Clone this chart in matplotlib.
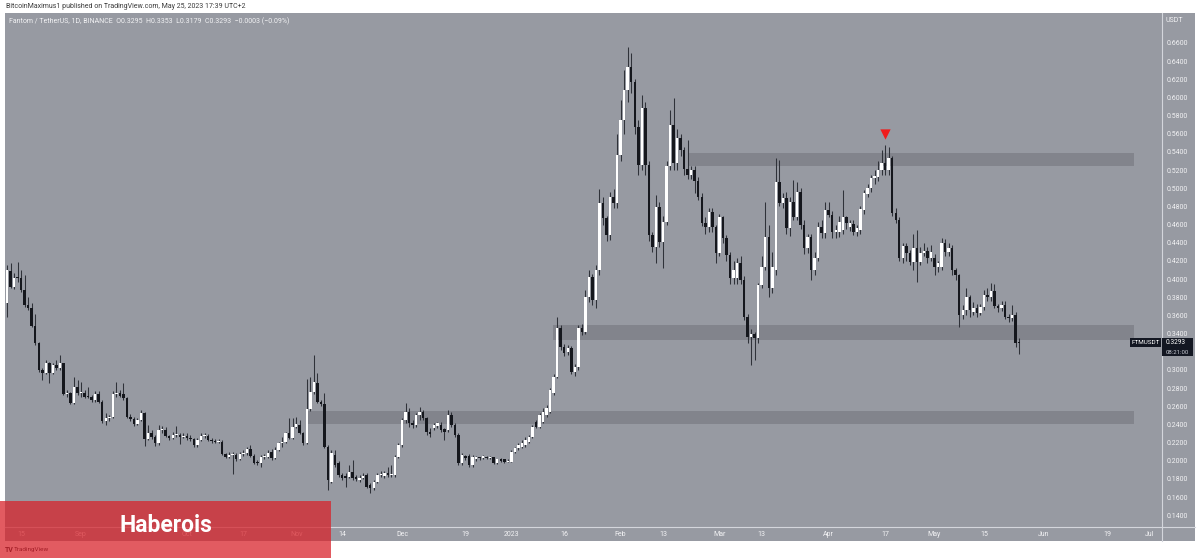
"""
FTM/USDT daily candles (Aug 2022 - May 2023), TradingView style snapshot.
"""

import numpy as np
import pandas as pd
import matplotlib.pyplot as plt
import matplotlib.dates as mdates
from matplotlib.patches import Rectangle
from matplotlib.lines import Line2D

plt.rcParams["font.family"] = ["Roboto", "DejaVu Sans"]

# -----------------------------------------------------------------------------
# DATA (one candle per day, 2022-08-11 .. 2023-05-25)
# -----------------------------------------------------------------------------
start_date = "2022-08-11"

opens = [
    .3733, .4093, .3917, .4016, .4008, .3880, .3715, .3678, .3483, .3300,
    .2999, .2970, .3073, .2962, .3054, .3017, .3073, .2735, .2742, .2639,
    .2816, .2742, .2750, .2705, .2698, .2669, .2735, .2650, .2441, .2467,
    .2485, .2735, .2750, .2735, .2687, .2478, .2455, .2401, .2449, .2522,
    .2236, .2309, .2258, .2199, .2339, .2339, .2272, .2247, .2283, .2283,
    .2265, .2272, .2247, .2236, .2173, .2228, .2272, .2276, .2228, .2214,
    .2210, .2210, .2074, .2045, .2063, .2063, .2015, .2074, .2081, .2126,
    .2052, .1979, .1971, .2037, .2045, .2092, .2026, .2118, .2192, .2210,
    .2302, .2247, .2375, .2394, .2309, .2199, .2566, .2760, .2859, .2650,
    .2624, .2155, .1769, .2063, .1971, .1843, .1832, .1825, .1880, .1817,
    .1788, .1814, .1843, .1733, .1696, .1769, .1843, .1832, .1861, .1843,
    .1843, .2045, .2173, .2448, .2540, .2412, .2393, .2503, .2540, .2467,
    .2320, .2357, .2382, .2393, .2346, .2338, .2503, .2393, .2283, .1971,
    .2052, .2052, .1953, .2015, .2030, .2026, .2045, .2026, .2037, .1979,
    .2015, .2015, .1990, .1990, .2100, .2136, .2155, .2173, .2210, .2265,
    .2430, .2375, .2430, .2503, .2540, .2742, .2926, .3458, .3257, .3202,
    .3238, .2981, .3036, .3458, .3422, .3807, .4027, .3770, .4100, .4842,
    .4669, .4486, .4908, .4835, .5367, .5752, .6082, .6332, .6174, .5679,
    .5257, .5881, .5257, .4486, .4358, .4798, .4413, .4633, .5246, .5697,
    .5275, .5550, .5422, .5210, .5147, .5202, .5084, .4908, .4622, .4578,
    .4743, .4578, .4284, .4688, .4449, .4266, .4009, .4009, .4174, .3990,
    .3587, .3367, .3396, .3348, .3936, .4137, .4468, .3899, .4100, .5073,
    .4834, .4890, .4560, .4853, .4687, .4963, .4596, .4339, .4467, .4100,
    .4229, .4577, .4504, .4761, .4706, .4522, .4522, .4540, .4680, .4577,
    .4607, .4523, .4540, .4761, .4937, .5000, .5110, .5128, .5202, .5275,
    .5202, .5330, .4731, .4651, .4229, .4365, .4284, .4193, .4339, .4193,
    .4284, .4310, .4229, .4229, .4137, .4137, .4394, .4303, .4339, .4100,
    .4045, .3603, .3660, .3806, .3640, .3680, .3630, .3696, .3824, .3800,
    .3872, .3703, .3680, .3720, .3586, .3570, .3600, .3295,
]

highs = [
    .4155, .4173, .4063, .4190, .4100, .4045, .3807, .3733, .3620, .3310,
    .3017, .3110, .3091, .3073, .3110, .3164, .3080, .2779, .2760, .2926,
    .2889, .2870, .2779, .2816, .2720, .2765, .2765, .2669, .2522, .2500,
    .2770, .2867, .2779, .2852, .2705, .2515, .2478, .2467, .2559, .2541,
    .2394, .2339, .2283, .2394, .2380, .2375, .2283, .2320, .2383, .2309,
    .2305, .2305, .2283, .2247, .2247, .2301, .2305, .2294, .2247, .2236,
    .2236, .2228, .2089, .2092, .2092, .2081, .2100, .2118, .2155, .2173,
    .2074, .2008, .2063, .2074, .2118, .2126, .2147, .2210, .2265, .2316,
    .2467, .2467, .2485, .2449, .2320, .2900, .2925, .3164, .2970, .2669,
    .2742, .2173, .2118, .2118, .1998, .1862, .1862, .1953, .2008, .1843,
    .1843, .1862, .1862, .1751, .1788, .1862, .1891, .1891, .1935, .1953,
    .2063, .2191, .2466, .2632, .2577, .2450, .2522, .2595, .2559, .2485,
    .2357, .2412, .2430, .2430, .2357, .2559, .2540, .2412, .2302, .2081,
    .2063, .2074, .2063, .2052, .2045, .2063, .2052, .2052, .2045, .2023,
    .2026, .2023, .2015, .2118, .2155, .2191, .2228, .2265, .2283, .2393,
    .2448, .2522, .2577, .2610, .2800, .2960, .3580, .3490, .3290, .3270,
    .3260, .3070, .3490, .3500, .3880, .4100, .4060, .4150, .4989, .4900,
    .4700, .4960, .4990, .5600, .5972, .6303, .6552, .6486, .6200, .5750,
    .6027, .5950, .5300, .4520, .4926, .4850, .4700, .5300, .5862, .5991,
    .5650, .5600, .5450, .5530, .5240, .5240, .5120, .4950, .4680, .4780,
    .4780, .4600, .4720, .4700, .4480, .4300, .4200, .4230, .4250, .4030,
    .3620, .3450, .3420, .3960, .4250, .4853, .4600, .4300, .5331, .5312,
    .4950, .4960, .4900, .5091, .5073, .5000, .4650, .4500, .4500, .4300,
    .4630, .4650, .4853, .4850, .4750, .4600, .4700, .4981, .4700, .4650,
    .4650, .4600, .4800, .4980, .5050, .5150, .5200, .5300, .5422, .5477,
    .5459, .5350, .4780, .4680, .4400, .4400, .4320, .4500, .4541, .4350,
    .4400, .4350, .4380, .4280, .4200, .4450, .4440, .4400, .4380, .4120,
    .4060, .3720, .3900, .3830, .3750, .3730, .3730, .3880, .3900, .3960,
    .3950, .3730, .3760, .3760, .3620, .3720, .3640, .3353,
]

lows = [
    .3586, .3898, .3890, .3970, .3860, .3690, .3660, .3468, .3275, .2980,
    .2889, .2955, .2852, .2955, .2999, .3000, .2720, .2698, .2625, .2625,
    .2724, .2705, .2687, .2687, .2650, .2650, .2632, .2419, .2394, .2440,
    .2470, .2705, .2698, .2669, .2467, .2440, .2383, .2390, .2441, .2162,
    .2228, .2236, .2162, .2173, .2309, .2258, .2228, .2236, .2258, .2184,
    .2247, .2228, .2221, .2155, .2147, .2221, .2247, .2221, .2199, .2199,
    .2192, .2063, .2026, .2034, .1854, .2000, .2008, .2052, .2063, .2037,
    .1964, .1953, .1935, .2023, .2026, .2008, .2015, .2103, .2155, .2192,
    .2236, .2236, .2360, .2294, .2173, .2180, .2548, .2740, .2630, .2606,
    .2136, .1678, .1751, .1935, .1825, .1788, .1715, .1806, .1788, .1777,
    .1769, .1795, .1696, .1648, .1678, .1751, .1825, .1814, .1825, .1825,
    .1825, .2026, .2155, .2411, .2375, .2357, .2375, .2448, .2448, .2283,
    .2265, .2338, .2357, .2320, .2228, .2320, .2375, .2265, .1953, .1953,
    .2008, .1935, .1935, .2001, .2008, .2015, .2015, .2015, .1964, .1964,
    .1986, .1975, .1982, .1982, .2089, .2118, .2136, .2155, .2191, .2246,
    .2357, .2357, .2412, .2485, .2522, .2720, .2910, .3220, .3150, .3160,
    .2950, .2930, .3000, .3380, .3400, .3750, .3720, .3680, .4050, .4600,
    .4420, .4430, .4780, .4780, .5300, .5600, .5950, .6050, .5600, .5150,
    .5200, .5150, .4420, .4303, .4174, .4350, .4119, .4600, .5200, .5200,
    .5200, .5350, .5150, .5100, .5100, .4950, .4870, .4580, .4500, .4520,
    .4520, .4180, .4250, .4400, .4200, .3950, .3950, .3950, .3950, .3550,
    .3300, .3055, .3110, .3300, .3900, .4100, .3800, .3850, .4050, .4800,
    .4780, .4500, .4470, .4650, .4650, .4550, .4280, .4290, .3990, .4050,
    .4200, .4450, .4450, .4680, .4450, .4450, .4460, .4500, .4550, .4530,
    .4480, .4470, .4500, .4720, .4900, .4960, .5050, .5080, .5150, .5150,
    .5150, .4700, .4614, .4200, .4180, .4200, .4150, .4100, .3973, .4150,
    .4250, .4180, .4200, .4050, .4080, .4100, .4250, .4250, .4050, .3990,
    .3476, .3560, .3600, .3580, .3600, .3580, .3600, .3660, .3760, .3760,
    .3680, .3640, .3650, .3560, .3530, .3540, .3250, .3179,
]

closes = [
    .4100, .3917, .4016, .4008, .3880, .3715, .3678, .3483, .3300, .2999,
    .2970, .3073, .2962, .3054, .3017, .3073, .2735, .2750, .2639, .2816,
    .2742, .2750, .2705, .2698, .2669, .2735, .2650, .2441, .2467, .2485,
    .2735, .2750, .2713, .2687, .2478, .2455, .2401, .2449, .2522, .2236,
    .2309, .2258, .2199, .2339, .2346, .2272, .2247, .2283, .2283, .2265,
    .2272, .2247, .2236, .2173, .2228, .2272, .2276, .2228, .2214, .2210,
    .2210, .2074, .2045, .2063, .2063, .2015, .2074, .2081, .2126, .2052,
    .1979, .1971, .2037, .2045, .2089, .2026, .2118, .2192, .2210, .2302,
    .2247, .2375, .2405, .2309, .2199, .2566, .2760, .2870, .2650, .2624,
    .2155, .1788, .2081, .1953, .1843, .1806, .1806, .1880, .1806, .1795,
    .1814, .1832, .1714, .1696, .1769, .1843, .1854, .1861, .1843, .1843,
    .2045, .2173, .2448, .2540, .2412, .2393, .2503, .2540, .2467, .2320,
    .2290, .2393, .2419, .2338, .2320, .2503, .2393, .2283, .1971, .2063,
    .2026, .1953, .2045, .2037, .2026, .2052, .2026, .2037, .1979, .2015,
    .2001, .1986, .2001, .2100, .2136, .2173, .2191, .2228, .2265, .2375,
    .2375, .2503, .2540, .2577, .2778, .2925, .3458, .3257, .3183, .3238,
    .2981, .3036, .3458, .3422, .3807, .4027, .3770, .4100, .4842, .4669,
    .4486, .4908, .4835, .5367, .5752, .6082, .6332, .6174, .5679, .5257,
    .5881, .5257, .4486, .4358, .4798, .4413, .4633, .5246, .5697, .5275,
    .5550, .5422, .5210, .5147, .5202, .5084, .4908, .4622, .4578, .4743,
    .4578, .4284, .4688, .4449, .4266, .4009, .4100, .4174, .3990, .3587,
    .3367, .3396, .3348, .3936, .4137, .4468, .3899, .4137, .5073, .4834,
    .4890, .4560, .4853, .4687, .4963, .4596, .4339, .4467, .4100, .4229,
    .4577, .4504, .4761, .4706, .4522, .4540, .4632, .4680, .4614, .4614,
    .4523, .4560, .4768, .4945, .5000, .5110, .5135, .5202, .5275, .5202,
    .5330, .4731, .4651, .4229, .4365, .4284, .4193, .4339, .4193, .4284,
    .4310, .4229, .4303, .4137, .4174, .4394, .4303, .4339, .4100, .4045,
    .3603, .3660, .3806, .3660, .3680, .3630, .3696, .3824, .3800, .3872,
    .3703, .3680, .3720, .3586, .3570, .3600, .3295, .3293,
]

# grey support / resistance zones: (start, end, low, high)
zone_starts = ["2022-11-04 08:00", "2023-01-12 18:00", "2023-02-20 02:00"]
zone_end = "2023-06-26 16:00"
zone_lows = [0.2404, 0.3330, 0.5245]
zone_highs = [0.2547, 0.3495, 0.5390]

# date axis labels
tick_dates = ["2022-08-15", "2022-09-01", "2022-10-01", "2022-10-17",
              "2022-11-01", "2022-11-14", "2022-12-01", "2022-12-19",
              "2023-01-01", "2023-01-16", "2023-02-01", "2023-02-13",
              "2023-03-01", "2023-03-13", "2023-04-01", "2023-04-17",
              "2023-05-01", "2023-05-15", "2023-06-01", "2023-06-19",
              "2023-07-01"]
tick_labels = ["15", "Sep", "Oct", "17", "Nov", "14", "Dec", "19", "2023",
               "16", "Feb", "13", "Mar", "13", "Apr", "17", "May", "15",
               "Jun", "19", "Jul"]

price_ticks = np.arange(0.14, 0.6601, 0.02)

signal_date = "2023-04-17"
signal_price = 0.560

# -----------------------------------------------------------------------------
# STYLE
# -----------------------------------------------------------------------------
W, H = 1200, 560
BG = "#979aa2"
ZONE = "#82848c"
SEP = "#d4d6dc"
UP = "#ffffff"
DOWN = "#15171d"
WICK = "#2f3239"
TXT = "#f2f2f4"


def fx(px):
    return px / W


def fy(py):
    return 1 - py / H


fig = plt.figure(figsize=(W / 100, H / 100), dpi=100)
fig.patch.set_facecolor("white")

# chart background (plot + both axis strips)
fig.add_artist(Rectangle((fx(5), fy(541)), (1195 - 5) / W, (541 - 13) / H,
                         transform=fig.transFigure, facecolor=BG,
                         edgecolor="none", zorder=-2))

ax = fig.add_axes([fx(5), fy(527), (1162 - 5) / W, (527 - 13) / H])
ax.set_facecolor(BG)
for sp in ax.spines.values():
    sp.set_visible(False)

dates = pd.date_range(start_date, periods=len(closes), freq="D")
xd = mdates.date2num(dates)
o = np.array(opens)
h = np.array(highs)
l = np.array(lows)
c = np.array(closes)
up = c >= o

# wicks
ax.vlines(xd, l, h, color=WICK, linewidth=0.75, zorder=3)
# bodies
body_lo = np.minimum(o, c)
body_h = np.maximum(np.abs(c - o), 0.0012)
ax.bar(xd[up], body_h[up], bottom=body_lo[up], width=0.7,
       color=UP, edgecolor=UP, linewidth=0, zorder=4)
ax.bar(xd[~up], body_h[~up], bottom=body_lo[~up], width=0.7,
       color=DOWN, edgecolor=DOWN, linewidth=0, zorder=4)

# zones
z_end = mdates.date2num(pd.Timestamp(zone_end))
for s, lo, hi in zip(zone_starts, zone_lows, zone_highs):
    z0 = mdates.date2num(pd.Timestamp(s))
    ax.add_patch(Rectangle((z0, lo), z_end - z0, hi - lo, facecolor=ZONE,
                           edgecolor="none", zorder=1))

# sell signal marker
ax.scatter([mdates.date2num(pd.Timestamp(signal_date))], [signal_price],
           marker="v", s=55, color="#f01c1c", zorder=5, linewidths=0)

x0 = xd[0]
ax.set_xlim(x0 - 0.57, x0 + 327.5)
ax.set_ylim(0.1270, 0.6930)

ax.yaxis.tick_right()
ax.set_yticks(price_ticks)
ax.set_yticklabels([f"{v:.4f}" for v in price_ticks])
ax.tick_params(axis="y", length=0, pad=3.2, labelsize=5, labelcolor=TXT)

ax.set_xticks(mdates.date2num(pd.to_datetime(tick_dates)))
ax.set_xticklabels(tick_labels)
ax.tick_params(axis="x", length=0, pad=3.0, labelsize=5, labelcolor=TXT)

# axis separators
fig.add_artist(Line2D([fx(1162), fx(1162)], [fy(13), fy(541)],
                      transform=fig.transFigure, color=SEP, linewidth=0.8))
fig.add_artist(Line2D([fx(5), fx(1195)], [fy(527), fy(527)],
                      transform=fig.transFigure, color=SEP, linewidth=0.8))

# header texts
fig.text(fx(6), fy(7), "BitcoinMaximus1 published on TradingView.com, "
         "May 25, 2023 17:39 UTC+2", fontsize=5, color="#3a3a3a",
         va="center", ha="left")
fig.text(fx(9), fy(21), "Fantom / TetherUS, 1D, BINANCE  O0.3295  H0.3353  "
         "L0.3179  C0.3293  \u22120.0003 (\u22120.09%)", fontsize=5,
         color=TXT, va="center", ha="left")
fig.text(fx(1166), fy(21), "USDT", fontsize=5, color=TXT, va="center")

# last price tags
fig.add_artist(Rectangle((fx(1130), fy(347)), 31 / W, 9 / H,
                         transform=fig.transFigure, facecolor="#131722",
                         edgecolor="none", zorder=3))
fig.text(fx(1145.5), fy(342.5), "FTMUSDT", fontsize=4.6, color="white",
         ha="center", va="center", zorder=4)
fig.add_artist(Rectangle((fx(1162), fy(356)), 31 / W, 18 / H,
                         transform=fig.transFigure, facecolor="#131722",
                         edgecolor="none", zorder=3))
fig.text(fx(1166), fy(342), "0.3293", fontsize=4.7, color="white",
         ha="left", va="center", zorder=4)
fig.text(fx(1166), fy(352), "08:21:00", fontsize=4.3, color="#c9ccd4",
         ha="left", va="center", zorder=4)

# TradingView logo (under the red banner)
fig.text(fx(5), fy(549.5), "TV", fontsize=5, fontweight="bold",
         color="#131722", va="center", zorder=2)
fig.text(fx(14), fy(549.5), "TradingView", fontsize=4.6, color="#131722",
         va="center", zorder=2)

# red banner
fig.add_artist(Rectangle((0, fy(558)), 331 / W, (558 - 501) / H,
                         transform=fig.transFigure, facecolor="#d8222a",
                         alpha=0.74, edgecolor="none", zorder=6))
fig.text(fx(166), fy(525), "Haberois", fontsize=16.5, fontweight="bold",
         color="white", ha="center", va="center", zorder=7)

fig.savefig("out.png", dpi=100, facecolor="white")
